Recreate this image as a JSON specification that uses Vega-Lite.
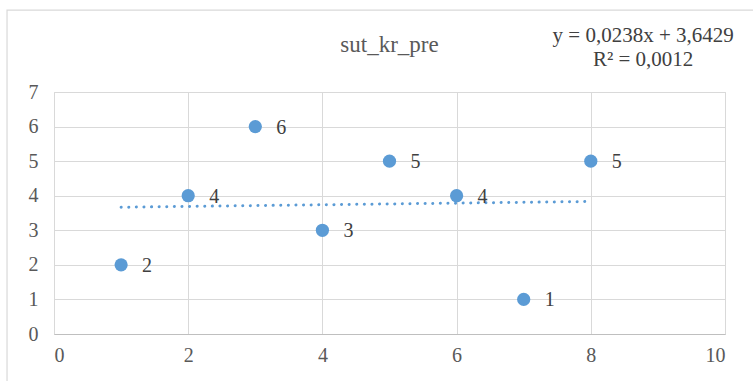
{
  "$schema": "https://vega.github.io/schema/vega-lite/v6.json",
  "autosize": "none",
  "width": 671,
  "height": 242,
  "padding": {"left": 54, "top": 92, "right": 28, "bottom": 47},
  "background": "white",
  "config": {
    "view": {"stroke": "#d9d9d9"},
    "font": "'Liberation Serif', 'Times New Roman', serif"
  },
  "datasets": {
    "pts": [
      {"x": 1, "y": 2}, {"x": 2, "y": 4}, {"x": 3, "y": 6}, {"x": 4, "y": 3},
      {"x": 5, "y": 5}, {"x": 6, "y": 4}, {"x": 7, "y": 1}, {"x": 8, "y": 5}
    ],
    "trend": [{"x": 1, "y": 3.6667}, {"x": 8, "y": 3.8333}],
    "eq": [
      {"x": 8.78, "y": 8.62, "t": "y = 0,0238x + 3,6429"},
      {"x": 8.78, "y": 7.94, "t": "R² = 0,0012"}
    ],
    "ttl": [{"x": 5.0, "y": 8.36, "t": "sut_kr_pre"}],
    "frame": [{"x": -0.7, "x2": 12, "y": -2, "y2": 9.37}]
  },
  "encoding": {
    "x": {"field": "x", "type": "quantitative", "scale": {"domain": [0, 10], "nice": false},
      "axis": {"values": [0, 2, 4, 6, 8, 10], "format": "d", "grid": true, "gridColor": "#d9d9d9", "ticks": false, "domainColor": "#bfbfbf", "labelPadding": 11, "title": null,
        "labelFont": "'Liberation Serif', 'Times New Roman', serif", "labelFontSize": 20, "labelColor": "#595959"}},
    "y": {"field": "y", "type": "quantitative", "scale": {"domain": [0, 7], "nice": false},
      "axis": {"values": [0, 1, 2, 3, 4, 5, 6, 7], "format": "d", "grid": true, "gridColor": "#d9d9d9", "ticks": false, "domain": false, "labelPadding": 16, "title": null,
        "labelFont": "'Liberation Serif', 'Times New Roman', serif", "labelFontSize": 20, "labelColor": "#595959"}}
  },
  "layer": [
    {
      "data": {"name": "frame"},
      "mark": {"type": "rect", "fill": null, "stroke": "#d9d9d9", "strokeWidth": 1.2, "clip": false},
      "encoding": {
        "x2": {"field": "x2"},
        "y2": {"field": "y2"}
      }
    },
    {
      "data": {"name": "trend"},
      "mark": {"type": "line", "color": "#5b9bd5", "strokeWidth": 3, "strokeDash": [0.1, 7.5], "strokeCap": "round"}
    },
    {
      "data": {"name": "pts"},
      "mark": {"type": "circle", "size": 175, "color": "#5b9bd5", "opacity": 1}
    },
    {
      "data": {"name": "pts"},
      "mark": {"type": "text", "align": "left", "baseline": "middle", "dx": 21, "dy": 1, "font": "'Liberation Serif', 'Times New Roman', serif", "fontSize": 20, "color": "#404040"},
      "encoding": {
        "text": {"field": "y", "type": "quantitative"}
      }
    },
    {
      "data": {"name": "eq"},
      "mark": {"type": "text", "align": "center", "baseline": "middle", "font": "'Liberation Serif', 'Times New Roman', serif", "fontSize": 21, "color": "#404040", "clip": false},
      "encoding": {
        "text": {"field": "t", "type": "nominal"}
      }
    },
    {
      "data": {"name": "ttl"},
      "mark": {"type": "text", "align": "center", "baseline": "middle", "font": "'Liberation Serif', 'Times New Roman', serif", "fontSize": 23, "color": "#595959", "clip": false},
      "encoding": {
        "text": {"field": "t", "type": "nominal"}
      }
    }
  ]
}
